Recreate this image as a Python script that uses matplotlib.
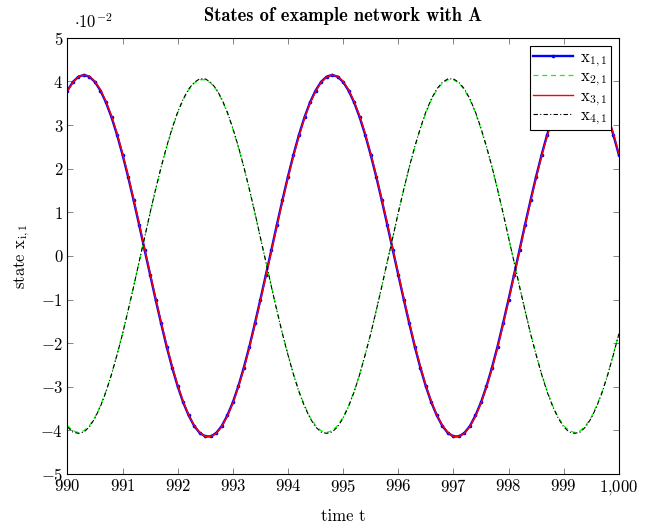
import numpy as np
import matplotlib
matplotlib.use('Agg')
import matplotlib.pyplot as plt
from matplotlib.ticker import FuncFormatter

# time samples (step 0.1)
t = np.linspace(990, 1000, 101)

# states, in units of 1e-2
x11 = [3.79, 3.99, 4.11,
       4.15, 4.11, 3.99, 3.79, 3.52, 3.18, 2.78, 2.32, 1.82, 1.28, 0.72, 0.14, -0.43, -1.00, -1.55,
       -2.08, -2.56, -2.99, -3.36, -3.66, -3.90, -4.06, -4.14, -4.14, -4.06, -3.90, -3.66, -3.36,
       -2.99, -2.56, -2.08, -1.55, -1.00, -0.43, 0.14, 0.72, 1.28, 1.82, 2.32, 2.78, 3.18, 3.52,
       3.79, 3.99, 4.11,
       4.15, 4.11, 3.99, 3.79, 3.52, 3.18, 2.78, 2.32, 1.82, 1.28, 0.72, 0.14, -0.43, -1.00, -1.55,
       -2.08, -2.56, -2.99, -3.36, -3.66, -3.90, -4.06, -4.14, -4.14, -4.06, -3.90, -3.66, -3.36,
       -2.99, -2.56, -2.08, -1.55, -1.00, -0.43, 0.14, 0.72, 1.28, 1.82, 2.32, 2.78, 3.18, 3.52,
       3.79, 3.99, 4.11,
       4.15, 4.11, 3.99, 3.79, 3.52, 3.18, 2.78, 2.32]
x21 = [-3.89, -4.01,
       -4.05, -4.01, -3.89, -3.70, -3.43, -3.10, -2.71, -2.26, -1.78, -1.25, -0.70, -0.14, 0.42,
       0.98, 1.52, 2.03, 2.49, 2.91, 3.28, 3.58, 3.81, 3.96, 4.04, 4.04, 3.96, 3.81, 3.58, 3.28,
       2.91, 2.49, 2.03, 1.52, 0.98, 0.42, -0.14, -0.70, -1.25, -1.78, -2.26, -2.71, -3.10, -3.43,
       -3.70, -3.89, -4.01,
       -4.05, -4.01, -3.89, -3.70, -3.43, -3.10, -2.71, -2.26, -1.78, -1.25, -0.70, -0.14, 0.42,
       0.98, 1.52, 2.03, 2.49, 2.91, 3.28, 3.58, 3.81, 3.96, 4.04, 4.04, 3.96, 3.81, 3.58, 3.28,
       2.91, 2.49, 2.03, 1.52, 0.98, 0.42, -0.14, -0.70, -1.25, -1.78, -2.26, -2.71, -3.10, -3.43,
       -3.70, -3.89, -4.01,
       -4.05, -4.01, -3.89, -3.70, -3.43, -3.10, -2.71, -2.26, -1.78]
x31 = [3.78, 3.98, 4.11,
       4.15, 4.12, 4.00, 3.81, 3.54, 3.21, 2.81, 2.35, 1.85, 1.31, 0.75, 0.17, -0.40, -0.97, -1.52,
       -2.05, -2.53, -2.97, -3.34, -3.65, -3.89, -4.05, -4.14, -4.14, -4.07, -3.91, -3.68, -3.38,
       -3.01, -2.59, -2.11, -1.58, -1.03, -0.46, 0.11, 0.69, 1.25, 1.79, 2.29, 2.75, 3.16, 3.50,
       3.77, 3.98, 4.10,
       4.15, 4.12, 4.00, 3.81, 3.54, 3.21, 2.81, 2.35, 1.85, 1.31, 0.75, 0.17, -0.40, -0.97, -1.52,
       -2.05, -2.53, -2.97, -3.34, -3.65, -3.89, -4.05, -4.14, -4.14, -4.07, -3.91, -3.68, -3.38,
       -3.01, -2.59, -2.11, -1.58, -1.03, -0.46, 0.11, 0.69, 1.25, 1.79, 2.29, 2.75, 3.16, 3.50,
       3.77, 3.98, 4.10,
       4.15, 4.12, 4.00, 3.81, 3.54, 3.21, 2.81, 2.35]
x41 = [-3.92, -4.04,
       -4.07, -4.04, -3.92, -3.72, -3.45, -3.12, -2.72, -2.27, -1.79, -1.26, -0.71, -0.14, 0.42,
       0.99, 1.53, 2.04, 2.51, 2.93, 3.30, 3.60, 3.83, 3.98, 4.06, 4.06, 3.98, 3.83, 3.60, 3.30,
       2.93, 2.51, 2.04, 1.53, 0.99, 0.42, -0.14, -0.71, -1.26, -1.79, -2.27, -2.72, -3.12, -3.45,
       -3.72, -3.92, -4.04,
       -4.07, -4.04, -3.92, -3.72, -3.45, -3.12, -2.72, -2.27, -1.79, -1.26, -0.71, -0.14, 0.42,
       0.99, 1.53, 2.04, 2.51, 2.93, 3.30, 3.60, 3.83, 3.98, 4.06, 4.06, 3.98, 3.83, 3.60, 3.30,
       2.93, 2.51, 2.04, 1.53, 0.99, 0.42, -0.14, -0.71, -1.26, -1.79, -2.27, -2.72, -3.12, -3.45,
       -3.72, -3.92, -4.04,
       -4.07, -4.04, -3.92, -3.72, -3.45, -3.12, -2.72, -2.27, -1.79]

plt.rcParams['font.family'] = 'serif'
plt.rcParams['font.serif'] = ['cmr10']
plt.rcParams['mathtext.fontset'] = 'cm'
plt.rcParams['axes.unicode_minus'] = False

fig = plt.figure(figsize=(6.48, 5.26), dpi=100)
ax = fig.add_axes([0.104, 0.099, 0.851, 0.829])

ax.plot(t, x11, color='blue', lw=1.7, marker='o', ms=1.6, label=r'$\mathrm{x}_{1,1}$')
ax.plot(t, x21, color='#00ff00', lw=0.9, ls=(0, (4, 3)), label=r'$\mathrm{x}_{2,1}$')
ax.plot(t, x31, color='red', lw=1.0, label=r'$\mathrm{x}_{3,1}$')
ax.plot(t, x41, color='black', lw=0.8, ls=(0, (4, 2, 1, 2)), label=r'$\mathrm{x}_{4,1}$')

ax.set_xlim(990, 1000)
ax.set_ylim(-5, 5)
ax.set_xticks(range(990, 1001))
ax.set_yticks(range(-5, 6))
ax.xaxis.set_major_formatter(FuncFormatter(lambda v, p: '$%s$' % format(int(round(v)), ',').replace(',', '{,}')))
ax.yaxis.set_major_formatter(FuncFormatter(lambda v, p: '$%d$' % int(round(v))))
ax.tick_params(direction='in', top=True, right=True, length=4, width=0.5, color='#555555',
               labelsize=12, pad=3)
for s in ax.spines.values():
    s.set_linewidth(0.8)

ax.text(0.012, 1.015, r'$\cdot 10^{-2}$', transform=ax.transAxes, fontsize=12, ha='left', va='bottom')
ax.set_title('States of example network with A', fontfamily='cmb10', fontsize=13.3, pad=12)
ax.set_xlabel('time t', fontsize=12, labelpad=8)
ax.set_ylabel(r'state $\mathrm{x}_{\mathrm{i},1}$', fontsize=12, labelpad=6)

leg = ax.legend(loc='upper right', fontsize=12, fancybox=False, edgecolor='black',
                framealpha=1, handlelength=2.4, borderaxespad=0.5, labelspacing=0.0,
                borderpad=0.2, handletextpad=0.4)
leg.get_frame().set_linewidth(0.8)

fig.savefig('out.png', dpi=100)
